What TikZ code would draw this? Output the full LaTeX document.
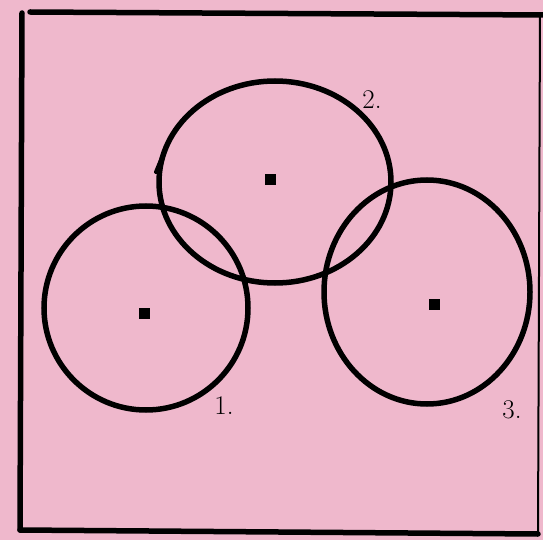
\documentclass[tikz,border=0pt]{standalone}
\definecolor{paper}{RGB}{239,184,204}
\begin{document}
\begin{tikzpicture}[x=1pt,y=-1pt,
  ink/.style={line width=5.5pt,draw=black,line cap=round},
  ring/.style={line width=5.5pt,draw=black},
  dot/.style={fill=black,minimum size=11pt,inner sep=0pt,draw=none,rectangle},
  lbl/.style={font=\fontsize{27}{27}\selectfont,inner sep=0pt}]
\fill[paper] (0,0) rectangle (543,540);
\useasboundingbox (0,0) rectangle (543,540);
\coordinate (tl) at (22,13);
\coordinate (tr) at (545,15);
\coordinate (bl) at (20,530);
\coordinate (br) at (538,534);
\coordinate (rt) at (540,15);
\draw[ink] (30,12) -- (tr);
\draw[ink] (tl) -- (bl);
\draw[ink] (bl) -- (br);
\draw[line width=2pt] (rt) -- (br);
\draw[ring] (146,308) ellipse [x radius=102, y radius=102];
\draw[ring] (275,182) ellipse [x radius=116, y radius=101];
\draw[ring] (427,292) ellipse [x radius=103, y radius=112];
\coordinate (h1) at (156,172);
\coordinate (h2) at (163,155);
\draw[ink,line width=4pt] (h1) -- (h2);
\node[dot] (d1) at (144,313) {};
\node[dot] (d2) at (270,180) {};
\node[dot] (d3) at (434,304) {};
\node[lbl] (l1) at (224,406) {1.};
\node[lbl] (l2) at (372,100) {2.};
\node[lbl] (l3) at (512,410) {3.};
\end{tikzpicture}
\end{document}
